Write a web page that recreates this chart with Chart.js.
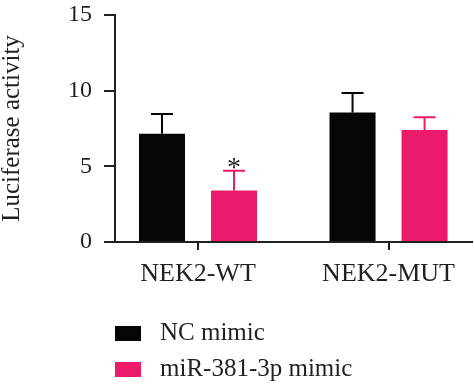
<!DOCTYPE html>
<html>
<head>
<meta charset="utf-8">
<style>
  html, body { margin: 0; padding: 0; background: #ffffff; }
  #wrap { width: 474px; height: 385px; position: relative; }
</style>
<script src="https://cdn.jsdelivr.net/npm/chart.js@4.4.1/dist/chart.umd.min.js"></script>
</head>
<body>
<div id="wrap"><canvas id="c" width="474" height="385"></canvas></div>
<script>
// ---- data ----
const categories = ['NEK2-WT', 'NEK2-MUT'];
const seriesNames = ['NC mimic', 'miR-381-3p mimic'];
const ncMimic = [7.15, 8.55];
const ncMimicErr = [1.3, 1.3];
const mirMimic = [3.4, 7.4];
const mirMimicErr = [1.3, 0.85];
const mirMimicStars = ['*', ''];
const yTicks = [0, 5, 10, 15];

const colors = ['#050505', '#ec1a6b'];
const inkColor = '#231f20';
const fontFamily = '"Liberation Serif", "Times New Roman", serif';

const toPoints = (vals) => vals.map((v, i) => ({ x: i, y: v }));

const errorBars = {
  id: 'errorBars',
  afterDatasetsDraw(chart) {
    const ctx = chart.ctx;
    const yScale = chart.scales.y;
    chart.data.datasets.forEach((ds, di) => {
      const meta = chart.getDatasetMeta(di);
      meta.data.forEach((bar, j) => {
        const v = ds.data[j].y;
        const e = ds.errors[j];
        const yTop = yScale.getPixelForValue(v + e);
        ctx.save();
        ctx.strokeStyle = ds.backgroundColor;
        ctx.lineWidth = 2;
        ctx.beginPath();
        ctx.moveTo(bar.x, bar.y);
        ctx.lineTo(bar.x, yTop);
        ctx.moveTo(bar.x - 11, yTop);
        ctx.lineTo(bar.x + 11, yTop);
        ctx.stroke();
        const star = ds.stars ? ds.stars[j] : '';
        if (star) {
          ctx.fillStyle = inkColor;
          ctx.font = '28px ' + fontFamily;
          ctx.textAlign = 'center';
          ctx.textBaseline = 'alphabetic';
          ctx.fillText(star, bar.x, yTop + 5);
        }
        ctx.restore();
      });
    });
  }
};

const customLegend = {
  id: 'customLegend',
  afterDraw(chart) {
    const ctx = chart.ctx;
    const left = chart.chartArea.left;
    const rows = [326, 362];
    ctx.save();
    chart.data.datasets.forEach((ds, i) => {
      const top = rows[i];
      ctx.fillStyle = ds.backgroundColor;
      ctx.fillRect(left, top, 26, 15);
      ctx.fillStyle = inkColor;
      ctx.font = '25px ' + fontFamily;
      ctx.textAlign = 'left';
      ctx.textBaseline = 'middle';
      ctx.fillText(ds.label, left + 45, top + 7.5);
    });
    ctx.restore();
  }
};

new Chart(document.getElementById('c'), {
  type: 'bar',
  data: {
    datasets: [
      { label: seriesNames[0], data: toPoints(ncMimic), errors: ncMimicErr,
        backgroundColor: colors[0], borderWidth: 0 },
      { label: seriesNames[1], data: toPoints(mirMimic), errors: mirMimicErr, stars: mirMimicStars,
        backgroundColor: colors[1], borderWidth: 0 }
    ]
  },
  options: {
    responsive: false,
    animation: false,
    devicePixelRatio: 1,
    categoryPercentage: 0.756,
    barPercentage: 0.639,
    layout: { padding: { top: 15, right: 2, bottom: 91, left: 0 } },
    plugins: {
      legend: { display: false },
      tooltip: { enabled: false }
    },
    scales: {
      x: {
        type: 'linear',
        min: -0.4357,
        max: 1.438,
        offset: false,
        afterBuildTicks(scale) { scale.ticks = categories.map((c, i) => ({ value: i })); },
        afterFit(scale) { scale.height = 52; },
        ticks: {
          callback: (v) => categories[v],
          font: { family: fontFamily, size: 26 },
          color: inkColor,
          padding: 9,
          maxRotation: 0,
          autoSkip: false
        },
        grid: { display: true, drawOnChartArea: false, drawTicks: true, tickLength: 8,
                color: inkColor, lineWidth: 2, offset: false },
        border: { display: true, color: inkColor, width: 2 }
      },
      y: {
        min: 0,
        max: 15,
        afterBuildTicks(scale) { scale.ticks = yTicks.map(v => ({ value: v })); },
        afterFit(scale) { scale.width = 115; scale.paddingTop = 0; scale.paddingBottom = 0; },
        ticks: {
          font: { family: fontFamily, size: 24 },
          color: inkColor,
          padding: 12
        },
        title: {
          display: true,
          text: 'Luciferase activity',
          font: { family: fontFamily, size: 25, lineHeight: 1 },
          color: inkColor,
          padding: 0
        },
        grid: { display: true, drawOnChartArea: false, drawTicks: true, tickLength: 11,
                color: inkColor, lineWidth: 2 },
        border: { display: true, color: inkColor, width: 2 }
      }
    }
  },
  plugins: [errorBars, customLegend]
});
</script>
</body>
</html>
